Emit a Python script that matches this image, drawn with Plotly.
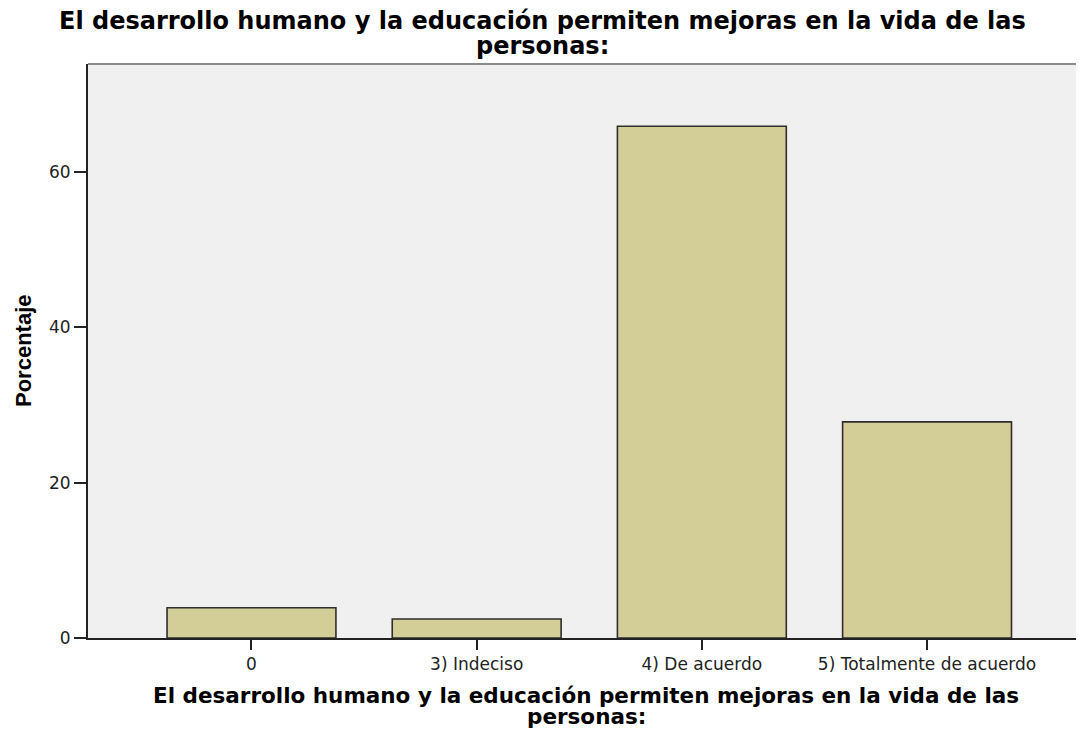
import plotly.graph_objects as go

categories = ["0", "3) Indeciso", "4) De acuerdo", "5) Totalmente de acuerdo"]
percentages = [3.90, 2.44, 65.85, 27.80]
y_ticks = [0, 20, 40, 60]
title_line1 = "El desarrollo humano y la educación permiten mejoras en la vida de las"
title_line2 = "personas:"
y_title = "Porcentaje"

fig = go.Figure()
fig.add_trace(go.Bar(
    x=categories,
    y=percentages,
    width=0.75,
    marker=dict(color="#D3CE97", line=dict(color="#2E2E2E", width=1.6)),
    hoverinfo="x+y",
))

# target plot area in the 1084x730 picture: x 88..1084, y 64..638
# the html page has an 8px body margin, so the figure is shifted by 8px
OFF = 8
PL, PT, PB = 88, 64, 638
W, H = 1084 - OFF, 730 - OFF
L, T = PL - OFF, PT - OFF
B = H - (PB - OFF)
pw, ph = 1084 - PL, PB - PT

def px_x(p):
    return (p - PL) / pw

def px_y(p):
    return (PB - p) / ph

title_font = dict(family="DejaVu Sans", size=24, color="#000000", weight="bold")
xtitle_font = dict(family="DejaVu Sans", size=21.5, color="#000000", weight="bold")

annotations = [
    dict(text=title_line1, x=px_x(542), y=px_y(21), font=title_font),
    dict(text=title_line2, x=px_x(542), y=px_y(46), font=title_font),
    dict(text=title_line1, x=px_x(586), y=px_y(695), font=xtitle_font),
    dict(text=title_line2, x=px_x(586), y=px_y(716), font=xtitle_font),
    dict(text=y_title, x=px_x(23), y=0.5, textangle=-90,
         font=dict(family="Liberation Sans", size=22, color="#000000", weight="bold")),
]
for a in annotations:
    a.update(xref="paper", yref="paper", showarrow=False, xanchor="center", yanchor="middle")

fig.update_layout(
    width=W, height=H,
    margin=dict(l=L, r=0, t=T, b=B, pad=0),
    paper_bgcolor="#FFFFFF",
    plot_bgcolor="#F0F0F0",
    showlegend=False,
    annotations=annotations,
    xaxis=dict(
        type="category",
        range=[-0.726, 3.697],
        showgrid=False, zeroline=False,
        showline=True, linecolor="#222222", linewidth=2,
        ticks="outside", ticklen=10, tickwidth=2, tickcolor="#222222",
        tickfont=dict(family="DejaVu Sans", size=17, color="#222222"),
        fixedrange=True,
    ),
    yaxis=dict(
        range=[0, 73.85],
        tickvals=y_ticks,
        showgrid=False, zeroline=False,
        showline=True, linecolor="#222222", linewidth=2,
        ticks="outside", ticklen=12, tickwidth=2, tickcolor="#222222",
        tickfont=dict(family="DejaVu Sans", size=17, color="#222222"),
        fixedrange=True,
    ),
    shapes=[dict(type="line", xref="paper", yref="paper", x0=0, x1=1, y0=1, y1=1,
                 line=dict(color="#8A8A8A", width=2))],
)

fig.write_html("out.html", config={"displayModeBar": False})
